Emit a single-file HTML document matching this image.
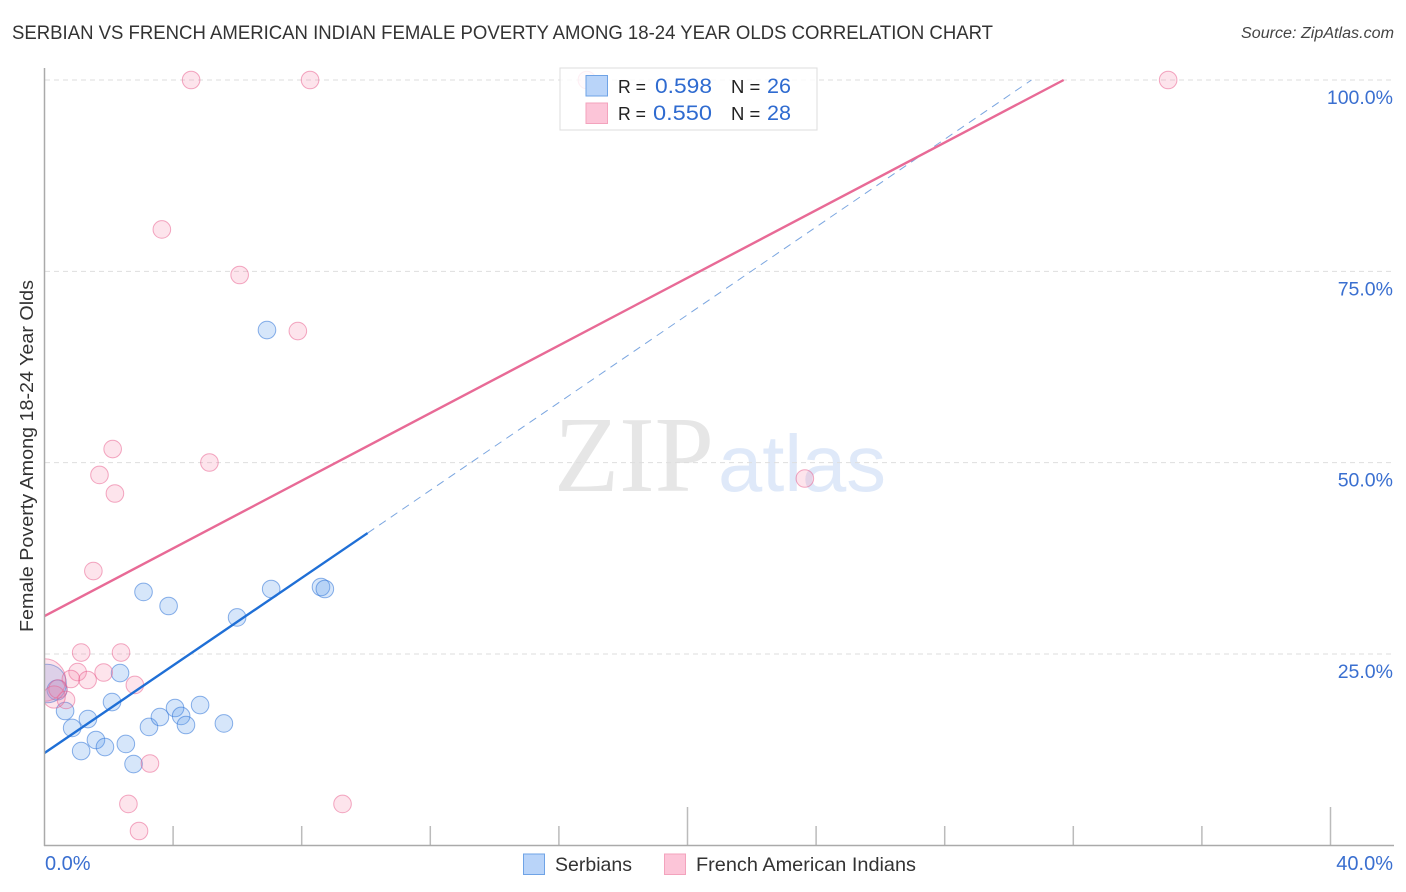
<!DOCTYPE html>
<html lang="en">
<head>
<meta charset="utf-8">
<title>Serbian vs French American Indian Female Poverty Correlation Chart</title>
<style>
html,body{margin:0;padding:0;background:#fff;}
svg{display:block;font-family:"Liberation Sans",sans-serif;}
</style>
</head>
<body>
<svg id="chart" xmlns="http://www.w3.org/2000/svg" width="1406" height="892" viewBox="0 0 1406 892">
  <defs>
    <clipPath id="plot-clip"><rect x="44.5" y="60" width="1350" height="786"/></clipPath>
  </defs>
  <rect x="0" y="0" width="1406" height="892" fill="#fff"/>
  <text x="12" y="39" font-size="19.5" fill="#333" textLength="981" lengthAdjust="spacingAndGlyphs">SERBIAN VS FRENCH AMERICAN INDIAN FEMALE POVERTY AMONG 18-24 YEAR OLDS CORRELATION CHART</text>
  <text x="1241" y="38" font-size="15.5" font-style="italic" fill="#444" textLength="153" lengthAdjust="spacingAndGlyphs">Source: ZipAtlas.com</text>

  <g>
    <text x="554" y="491" font-family="'Liberation Serif',serif" font-size="108" fill="#e6e6e6" textLength="160" lengthAdjust="spacingAndGlyphs">ZIP</text>
    <text x="718" y="491" font-size="80" fill="#dfe9f9" textLength="168" lengthAdjust="spacingAndGlyphs">atlas</text>
  </g>

  <g id="grid"></g>
  <g id="ticks"></g>
  <g id="labels"></g>
  <g id="points" clip-path="url(#plot-clip)"></g>
  <g id="trends"></g>
  <rect x="0" y="60" width="44.5" height="786" fill="#fff"/>
  <g id="axes">
    <line x1="44.5" y1="68" x2="44.5" y2="846" stroke="#aaa" stroke-width="1.5"/>
    <line x1="44" y1="845.5" x2="1394" y2="845.5" stroke="#aaa" stroke-width="1.5"/>
  </g>

  <text transform="translate(33,456) rotate(-90)" font-size="18.5" fill="#333" text-anchor="middle" textLength="352" lengthAdjust="spacingAndGlyphs">Female Poverty Among 18-24 Year Olds</text>

  <g>
    <rect x="560" y="68" width="257" height="62" fill="#fff" fill-opacity="0.82" stroke="#ddd" stroke-width="1"/>
    <rect x="586" y="75.5" width="21.5" height="20.5" fill="#b9d4f9" stroke="#6fa3e6" stroke-width="1"/>
    <rect x="586" y="103" width="21.5" height="20.5" fill="#fcc5d8" stroke="#f3a3bd" stroke-width="1"/>
    <text x="618" y="93" font-size="18.5" fill="#222" textLength="28" lengthAdjust="spacingAndGlyphs">R =</text>
    <text x="712" y="93" font-size="21" fill="#2f6bd0" text-anchor="end" textLength="57" lengthAdjust="spacingAndGlyphs">0.598</text>
    <text x="731" y="93" font-size="18.5" fill="#222">N =</text>
    <text x="767" y="93" font-size="21" fill="#2f6bd0" textLength="24" lengthAdjust="spacingAndGlyphs">26</text>
    <text x="618" y="120" font-size="18.5" fill="#222" textLength="28" lengthAdjust="spacingAndGlyphs">R =</text>
    <text x="712" y="120" font-size="21" fill="#2f6bd0" text-anchor="end" textLength="59" lengthAdjust="spacingAndGlyphs">0.550</text>
    <text x="731" y="120" font-size="18.5" fill="#222">N =</text>
    <text x="767" y="120" font-size="21" fill="#2f6bd0" textLength="24" lengthAdjust="spacingAndGlyphs">28</text>
  </g>

  <g>
    <rect x="523.5" y="854" width="21" height="20.5" fill="#b9d4f9" stroke="#6fa3e6" stroke-width="1"/>
    <text x="555" y="871" font-size="19.5" fill="#333" textLength="77" lengthAdjust="spacingAndGlyphs">Serbians</text>
    <rect x="664.5" y="854" width="21" height="20.5" fill="#fcc5d8" stroke="#f3a3bd" stroke-width="1"/>
    <text x="696" y="871" font-size="19.5" fill="#333" textLength="220" lengthAdjust="spacingAndGlyphs">French American Indians</text>
  </g>
</svg>
<script>
// Axis tick values
const xTickValues = [4, 8, 12, 16, 20, 24, 28, 32, 36, 40];
const xMajorTicks = [20, 40];
const yTickValues = [25, 50, 75, 100];
const yTickLabels = ["25.0%", "50.0%", "75.0%", "100.0%"];
const xEndLabels = ["0.0%", "40.0%"];

// Serbians series (percent)
const serbianX = [6.92, 3.08, 3.86, 7.05, 8.60, 8.72, 5.99, 2.35, 2.10, 0.64, 1.35, 0.86, 1.60, 1.88, 1.14, 2.53, 2.77, 3.25, 3.59, 4.06, 4.25, 4.40, 4.84, 5.58, 0.39, 0.08];
const serbianY = [67.33, 33.10, 31.27, 33.49, 33.75, 33.49, 29.77, 22.51, 18.72, 17.55, 16.50, 15.33, 13.76, 12.84, 12.32, 13.24, 10.62, 15.46, 16.76, 17.94, 16.90, 15.72, 18.33, 15.92, 20.29, 21.14];
const serbianWeight = [1, 1, 1, 1, 1, 1, 1, 1, 1, 1, 1, 1, 1, 1, 1, 1, 1, 1, 1, 1, 1, 1, 1, 1, 1.3, 4.8];

// French American Indians series (percent)
const frenchX = [4.56, 8.26, 34.95, 16.87, 3.65, 6.07, 7.88, 2.12, 1.71, 2.19, 5.13, 23.65, 1.52, 1.14, 2.38, 1.03, 0.82, 1.34, 1.84, 2.81, 0.67, 3.28, 2.61, 9.27, 2.94, 0, 0.30, 0.42];
const frenchY = [100, 100, 100, 100, 80.47, 74.52, 67.20, 51.78, 48.39, 45.97, 50.02, 47.93, 35.84, 25.19, 25.19, 22.64, 21.73, 21.60, 22.58, 20.95, 18.99, 10.69, 5.40, 5.40, 1.87, 21.60, 19.38, 20.42];
const frenchWeight = [1, 1, 1, 1, 1, 1, 1, 1, 1, 1, 1, 1, 1, 1, 1, 1, 1, 1, 1, 1, 1, 1, 1, 1, 1, 5.8, 1.6, 1.1];

// Trend lines (percent)
const serbianTrendX = [0, 10.05];
const serbianTrendY = [12.06, 40.8];
const serbianTrendExtX = [10.05, 30.7];
const serbianTrendExtY = [40.8, 100];
const frenchTrendX = [0, 31.7];
const frenchTrendY = [29.96, 100];

const xScale = function (v) { return 44.5 + v * 32.15; };
const yScale = function (v) { return 845.3 - v * 7.653; };
const rScale = function (w) { return 8.8 * Math.sqrt(w); };

const NS = "http://www.w3.org/2000/svg";
function make(tag, parent) {
  const el = document.createElementNS(NS, tag);
  document.getElementById(parent).appendChild(el);
  return el;
}

yTickValues.forEach(function (v, i) {
  const line = make("line", "grid");
  
  
  line.setAttribute("x1", 45);
  line.setAttribute("x2", 1393);
  line.setAttribute("y1", yScale(v));
  line.setAttribute("y2", yScale(v));
  line.setAttribute("stroke", "#dedede");
  line.setAttribute("stroke-width", "1");
  line.setAttribute("stroke-dasharray", "5 4");

  const label = make("text", "labels");
  
  
  label.setAttribute("x", 1393);
  label.setAttribute("y", yScale(v) + 24);
  label.setAttribute("text-anchor", "end");
  label.setAttribute("font-size", "19.5");
  label.setAttribute("fill", "#3a6fd0");
  label.textContent = yTickLabels[i];
});

xTickValues.forEach(function (v) {
  const tick = make("line", "ticks");
  
  
  tick.setAttribute("x1", xScale(v));
  tick.setAttribute("x2", xScale(v));
  tick.setAttribute("y1", xMajorTicks.indexOf(v) >= 0 ? 807 : 826);
  tick.setAttribute("y2", 845);
  tick.setAttribute("stroke", "#bbb");
  tick.setAttribute("stroke-width", "1.5");
});

const xLabelLeft = make("text", "labels");


xLabelLeft.setAttribute("x", 45);
xLabelLeft.setAttribute("y", 870);
xLabelLeft.setAttribute("font-size", "20");
xLabelLeft.setAttribute("fill", "#3a6fd0");
xLabelLeft.textContent = xEndLabels[0];

const xLabelRight = make("text", "labels");


xLabelRight.setAttribute("x", 1393);
xLabelRight.setAttribute("y", 870);
xLabelRight.setAttribute("text-anchor", "end");
xLabelRight.setAttribute("font-size", "20");
xLabelRight.setAttribute("fill", "#3a6fd0");
xLabelRight.textContent = xEndLabels[1];

serbianX.forEach(function (v, i) {
  const c = make("circle", "points");
  
  
  c.setAttribute("cx", xScale(v));
  c.setAttribute("cy", yScale(serbianY[i]));
  c.setAttribute("r", rScale(serbianWeight[i]));
  c.setAttribute("fill", "rgba(92,155,236,0.25)");
  c.setAttribute("stroke", "rgba(45,115,215,0.55)");
  c.setAttribute("stroke-width", "1");
});

frenchX.forEach(function (v, i) {
  const c = make("circle", "points");
  
  
  c.setAttribute("cx", xScale(v));
  c.setAttribute("cy", yScale(frenchY[i]));
  c.setAttribute("r", rScale(frenchWeight[i]));
  c.setAttribute("fill", "rgba(244,130,170,0.22)");
  c.setAttribute("stroke", "rgba(232,85,135,0.5)");
  c.setAttribute("stroke-width", "1");
});

const blueExt = make("line", "trends");


blueExt.setAttribute("x1", xScale(serbianTrendExtX[0]));
blueExt.setAttribute("y1", yScale(serbianTrendExtY[0]));
blueExt.setAttribute("x2", xScale(serbianTrendExtX[1]));
blueExt.setAttribute("y2", yScale(serbianTrendExtY[1]));
blueExt.setAttribute("stroke", "#7ba6e0");
blueExt.setAttribute("stroke-width", "1");
blueExt.setAttribute("stroke-dasharray", "8 6");

const blueLine = make("line", "trends");


blueLine.setAttribute("x1", xScale(serbianTrendX[0]));
blueLine.setAttribute("y1", yScale(serbianTrendY[0]));
blueLine.setAttribute("x2", xScale(serbianTrendX[1]));
blueLine.setAttribute("y2", yScale(serbianTrendY[1]));
blueLine.setAttribute("stroke", "#1f6fd6");
blueLine.setAttribute("stroke-width", "2.4");

const pinkLine = make("line", "trends");


pinkLine.setAttribute("x1", xScale(frenchTrendX[0]));
pinkLine.setAttribute("y1", yScale(frenchTrendY[0]));
pinkLine.setAttribute("x2", xScale(frenchTrendX[1]));
pinkLine.setAttribute("y2", yScale(frenchTrendY[1]));
pinkLine.setAttribute("stroke", "#e86a96");
pinkLine.setAttribute("stroke-width", "2.4");
</script>
</body>
</html>
